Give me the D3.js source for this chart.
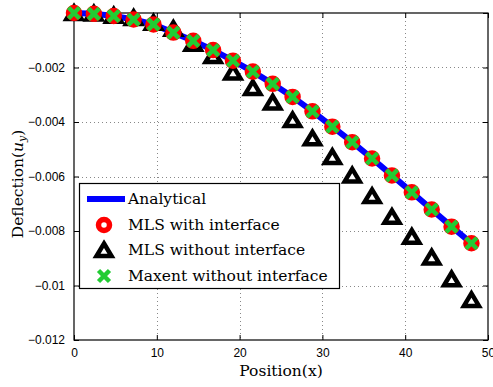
<!DOCTYPE html>
<html>
<head>
<meta charset="utf-8">
<script src="https://cdn.jsdelivr.net/npm/d3@7"></script>
<style>
  body { margin: 0; background: #fff; }
  svg { display: block; }
</style>
</head>
<body>
<div id="chart"></div>
<script>

// positions along the beam
var posX = [0, 2.4, 4.8, 7.2, 9.6, 12, 14.4, 16.8, 19.2, 21.6, 24, 26.4, 28.8, 31.2, 33.6, 36, 38.4, 40.8, 43.2, 45.6, 48];

var analytical = [0, -0.00003, -0.00011, -0.00024, -0.00042, -0.00072, -0.00102, -0.00136, -0.00175, -0.00215, -0.0026,
    -0.00308, -0.00361, -0.00417, -0.00474, -0.00534, -0.00596, -0.00658, -0.00721, -0.00784, -0.00845];

var mlsInterface = [0, -0.00003, -0.00011, -0.00024, -0.00042, -0.00072, -0.00102, -0.00136, -0.00175, -0.00215, -0.0026,
    -0.00308, -0.00361, -0.00417, -0.00474, -0.00534, -0.00596, -0.00658, -0.00721, -0.00784, -0.00845];

var mlsNoInterface = [0, -0.00002, -0.0001, -0.00018, -0.00036, -0.00058, -0.00113, -0.00158, -0.00218, -0.00275, -0.00328,
    -0.00393, -0.0046, -0.00528, -0.00596, -0.00672, -0.00748, -0.00821, -0.00897, -0.00977, -0.01053];

var maxentNoInterface = [0, -0.00003, -0.00011, -0.00024, -0.00042, -0.00072, -0.00102, -0.00136, -0.00175, -0.00215, -0.0026,
    -0.00308, -0.00361, -0.00417, -0.00474, -0.00534, -0.00596, -0.00658, -0.00721, -0.00784, -0.00845];

var xTicks = [0, 10, 20, 30, 40, 50];
var yTicks = [-0.012, -0.01, -0.008, -0.006, -0.004, -0.002];
var yTickLabels = ['\u22120.012', '\u22120.01', '\u22120.008', '\u22120.006', '\u22120.004', '\u22120.002'];

var legendNames = ['Analytical', 'MLS with interface', 'MLS without interface', 'Maxent without interface'];

var W = 493, H = 387;
var pLeft = 74, pRight = 488, pTop = 13, pBottom = 340;
var green = '#22cc33';
var serif = 'DejaVu Serif, serif';
var sans = 'Liberation Sans, Arial, sans-serif';

var svg = d3.select('#chart').append('svg')
    .attr('width', W)
    .attr('height', H);

var x = d3.scaleLinear().domain([0, 50]).range([pLeft, pRight]);
var y = d3.scaleLinear().domain([-0.012, 0]).range([pBottom, pTop]);

// grid
var grid = svg.append('g').attr('stroke', '#888').attr('stroke-width', 1).attr('stroke-dasharray', '1,3');
xTicks.slice(1, -1).forEach(t => {
    grid.append('line').attr('x1', Math.round(x(t)) + 0.5).attr('x2', Math.round(x(t)) + 0.5).attr('y1', pTop).attr('y2', pBottom);
});
yTicks.slice(1).forEach(t => {
    grid.append('line').attr('x1', pLeft).attr('x2', pRight).attr('y1', Math.round(y(t)) + 0.5).attr('y2', Math.round(y(t)) + 0.5);
});

// axes (ticks inward, box on)
var tickLen = 5;
var axB = svg.append('g').attr('transform', 'translate(0,' + pBottom + ')')
    .call(d3.axisBottom(x).tickValues(xTicks).tickSizeInner(-tickLen).tickSizeOuter(0).tickPadding(8));
var axT = svg.append('g').attr('transform', 'translate(0,' + pTop + ')')
    .call(d3.axisTop(x).tickValues(xTicks).tickSizeInner(-tickLen).tickSizeOuter(0).tickFormat(''));
var axL = svg.append('g').attr('transform', 'translate(' + pLeft + ',0)')
    .call(d3.axisLeft(y).tickValues(yTicks).tickSizeInner(-tickLen).tickSizeOuter(0).tickPadding(9)
        .tickFormat((d, i) => yTickLabels[i]));
var axR = svg.append('g').attr('transform', 'translate(' + pRight + ',0)')
    .call(d3.axisRight(y).tickValues(yTicks.concat([0])).tickSizeInner(-tickLen).tickSizeOuter(0).tickFormat(''));

[axB, axT, axL, axR].forEach(a => {
    a.select('.domain').remove();
    a.selectAll('line').attr('stroke', '#000');
    a.selectAll('text').attr('font-family', sans).attr('font-size', 12).attr('fill', '#000');
});

svg.append('rect')
    .attr('x', pLeft).attr('y', pTop)
    .attr('width', pRight - pLeft).attr('height', pBottom - pTop)
    .attr('fill', 'none').attr('stroke', '#000').attr('stroke-width', 1.2);

// axis labels
svg.append('text')
    .attr('x', (pLeft + pRight) / 2).attr('y', 376)
    .attr('text-anchor', 'middle')
    .attr('font-family', serif).attr('font-size', 15.5)
    .text('Position(x)');

var yl = svg.append('text')
    .attr('transform', 'translate(23,184) rotate(-90)')
    .attr('text-anchor', 'middle')
    .attr('font-family', serif).attr('font-size', 15.5);
yl.append('tspan').text('Deflection(');
yl.append('tspan').attr('font-style', 'italic').text('u');
yl.append('tspan').attr('font-style', 'italic').attr('font-size', 11).attr('dy', 3).text('y');
yl.append('tspan').attr('dy', -3).text(')');

// markers
var tri = 'M0,-6.5L7.5,6L-7.5,6Z';
var cross = 'M-5.5,-5.5L5.5,5.5M5.5,-5.5L-5.5,5.5';

function drawTri(g, cx, cy) {
    g.append('path').attr('transform', 'translate(' + cx + ',' + cy + ')')
        .attr('d', tri).attr('fill', '#fff').attr('stroke', '#000').attr('stroke-width', 4.5).attr('stroke-linejoin', 'miter');
}
function drawCircle(g, cx, cy) {
    g.append('circle').attr('cx', cx).attr('cy', cy).attr('r', 5.5)
        .attr('fill', '#fff').attr('stroke', '#ff0000').attr('stroke-width', 5.5);
}
function drawCross(g, cx, cy) {
    g.append('path').attr('transform', 'translate(' + cx + ',' + cy + ')')
        .attr('d', cross).attr('fill', 'none').attr('stroke', green).attr('stroke-width', 4.5);
}

var plot = svg.append('g');

plot.append('path')
    .datum(posX.map((p, i) => [p, analytical[i]]))
    .attr('fill', 'none').attr('stroke', '#0000ff').attr('stroke-width', 6)
    .attr('d', d3.line().x(d => x(d[0])).y(d => y(d[1])));

posX.forEach((p, i) => drawTri(plot, x(p), y(mlsNoInterface[i])));
posX.forEach((p, i) => drawCircle(plot, x(p), y(mlsInterface[i])));
posX.forEach((p, i) => drawCross(plot, x(p), y(maxentNoInterface[i])));

// legend
var lg = svg.append('g');
lg.append('rect')
    .attr('x', 79.5).attr('y', 183.5).attr('width', 260).attr('height', 105)
    .attr('fill', '#fff').attr('stroke', '#000').attr('stroke-width', 1.2);

var rowY = [199, 225, 250, 276];
lg.append('line').attr('x1', 87).attr('x2', 125).attr('y1', rowY[0]).attr('y2', rowY[0])
    .attr('stroke', '#0000ff').attr('stroke-width', 6);
drawCircle(lg, 104, rowY[1]);
drawTri(lg, 104, rowY[2]);
drawCross(lg, 104, rowY[3]);

legendNames.forEach((n, i) => {
    lg.append('text')
        .attr('x', 128).attr('y', rowY[i] + 5)
        .attr('font-family', serif).attr('font-size', 15.5)
        .text(n);
});

</script>
</body>
</html>
